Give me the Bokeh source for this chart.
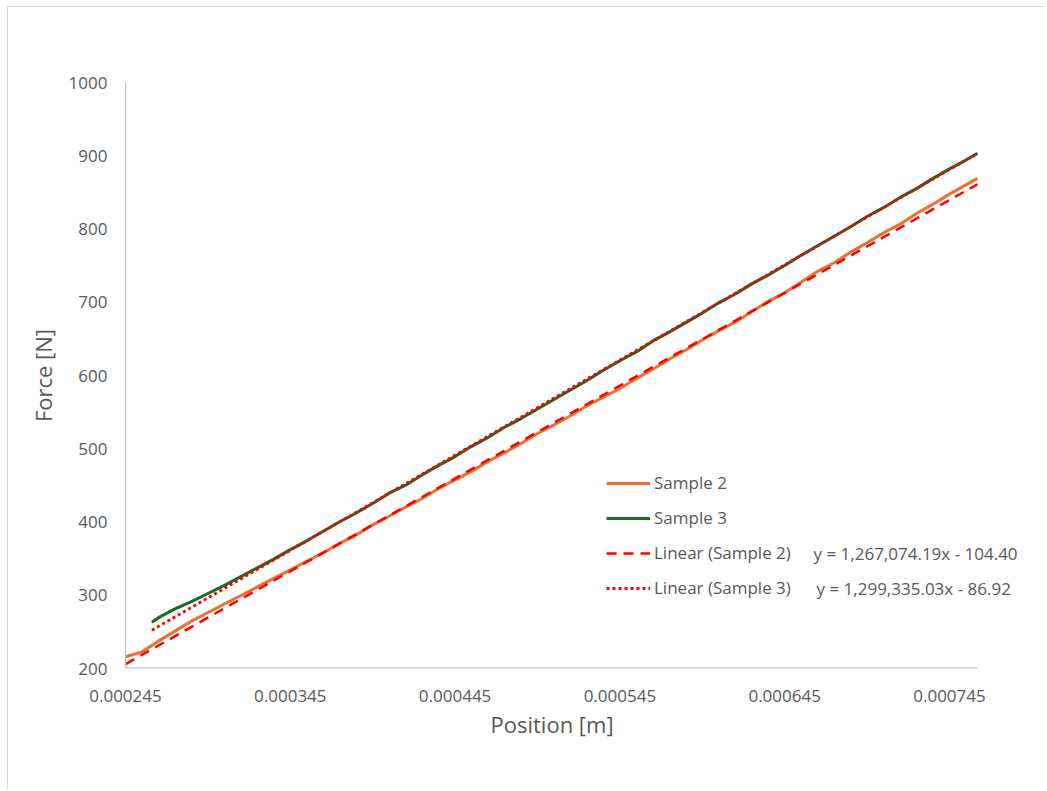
from bokeh.plotting import figure
from bokeh.models import (Range1d, FixedTicker, PrintfTickFormatter, Legend, LegendItem, Label, Title)
from bokeh.embed import file_html
from bokeh.resources import INLINE

# ---- data ----
x_sample2 = [0.000245, 0.000255, 0.000265, 0.000275, 0.000285, 0.000295, 0.000305, 0.000315,
             0.000325, 0.000335, 0.000345, 0.000355, 0.000365, 0.000375, 0.000385, 0.000395,
             0.000405, 0.000415, 0.000425, 0.000435, 0.000445, 0.000455, 0.000465, 0.000475,
             0.000485, 0.000495, 0.000505, 0.000515, 0.000525, 0.000535, 0.000545, 0.000555,
             0.000565, 0.000575, 0.000585, 0.000595, 0.000605, 0.000615, 0.000625, 0.000635,
             0.000645, 0.000655, 0.000665, 0.000675, 0.000685, 0.000695, 0.000705, 0.000715,
             0.000725, 0.000735, 0.000745, 0.000755, 0.000762]
force_sample2 = [216.0, 222.7, 237.4, 251.0, 264.7, 276.4, 288.1, 299.7, 311.4, 323.1, 334.7, 346.4,
                 358.1, 370.8, 382.4, 396.1, 407.8, 420.4, 432.1, 445.8, 457.4, 469.1, 482.8, 494.5,
                 507.1, 520.8, 532.5, 545.1, 558.8, 570.5, 582.2, 595.8, 608.5, 622.2, 634.8, 648.5,
                 661.2, 672.8, 687.5, 701.2, 712.9, 727.5, 742.2, 753.9, 768.5, 781.2, 794.9, 806.6,
                 821.2, 833.9, 847.6, 860.3, 869.1]

x_sample3 = [0.000261, 0.000265, 0.000275, 0.000285, 0.000295, 0.000305, 0.000315, 0.000325,
             0.000335, 0.000345, 0.000355, 0.000365, 0.000375, 0.000385, 0.000395, 0.000405,
             0.000415, 0.000425, 0.000435, 0.000445, 0.000455, 0.000465, 0.000475, 0.000485,
             0.000495, 0.000505, 0.000515, 0.000525, 0.000535, 0.000545, 0.000555, 0.000565,
             0.000575, 0.000585, 0.000595, 0.000605, 0.000615, 0.000625, 0.000635, 0.000645,
             0.000655, 0.000665, 0.000675, 0.000685, 0.000695, 0.000705, 0.000715, 0.000725,
             0.000735, 0.000745, 0.000755, 0.000762]
force_sample3 = [263.2, 269.4, 281.4, 291.4, 302.4, 313.4, 325.4, 337.4, 349.3, 362.3, 374.3, 387.3,
                 400.3, 412.3, 425.3, 439.3, 450.3, 464.3, 477.3, 489.3, 503.3, 515.3, 529.3, 541.2,
                 554.2, 567.2, 580.2, 593.2, 607.2, 620.2, 632.2, 647.2, 659.2, 672.2, 685.2, 699.2,
                 711.2, 725.1, 737.1, 750.1, 764.1, 777.1, 790.1, 803.1, 817.1, 829.1, 843.1, 855.1,
                 869.1, 882.1, 894.1, 903.2]

# trendline equations shown on the chart
slope2, intercept2 = 1267074.19, -104.40
slope3, intercept3 = 1299335.03, -86.92
eq2_text = "y = 1,267,074.19x - 104.40"
eq3_text = "y = 1,299,335.03x - 86.92"

x_ticks = [0.000245, 0.000345, 0.000445, 0.000545, 0.000645, 0.000745]
y_ticks = [200, 300, 400, 500, 600, 700, 800, 900, 1000]
x_axis_min, x_axis_max = 0.000245, 0.000762
y_axis_min, y_axis_max = 200, 1000
x_title = "Position [m]"
y_title = "Force [N]"

FONT = "Open Sans"
TXT = "#595959"
AXIS_COL = "#c0c0c0"

# layout (pixels)
W, H = 1038, 783
ML, MR, MT, MB = 117, 5, 75, 122
AXIS_PX = 852          # drawn length of the x axis line
FRAME_W = W - ML - MR  # plot frame extends further right so the legend text is not clipped
x_range_end = x_axis_min + (x_axis_max - x_axis_min) * FRAME_W / AXIS_PX

p = figure(width=W, height=H, output_backend="svg", toolbar_location=None,
           x_range=Range1d(x_axis_min, x_range_end), y_range=Range1d(y_axis_min, y_axis_max),
           min_border_left=ML, min_border_right=MR, min_border_top=MT, min_border_bottom=MB)
p.styles = {"margin-left": "7px", "margin-top": "6px",
            "border-left": "1px solid #d9d9d9", "border-top": "1px solid #d9d9d9"}
p.background_fill_color = "white"
p.border_fill_color = "white"
p.outline_line_color = None
p.xgrid.grid_line_color = None
p.ygrid.grid_line_color = None

# bottom axis line, only as long as the axis range
p.line([x_axis_min, x_axis_max], [y_axis_min, y_axis_min], line_color=AXIS_COL, line_width=2.4)

r2 = p.line(x_sample2, force_sample2, line_color="#E97132", line_width=3)
r3 = p.line(x_sample3, force_sample3, line_color="#196B24", line_width=3)

t2x = [x_sample2[0], x_sample2[-1]]
t2y = [slope2 * v + intercept2 for v in t2x]
t3x = [x_sample3[0], x_sample3[-1]]
t3y = [slope3 * v + intercept3 for v in t3x]
rt2 = p.line(t2x, t2y, line_color="#FF0000", line_width=2.5, line_dash="10 7")
rt3 = p.line(t3x, t3y, line_color="#FF0000", line_width=2.8, line_dash="3 3")

for ax in (p.xaxis[0], p.yaxis[0]):
    ax.axis_line_color = AXIS_COL
    ax.axis_line_width = 1.2
    ax.major_tick_line_color = None
    ax.minor_tick_line_color = None
    ax.major_tick_out = 0
    ax.major_tick_in = 0
    ax.major_label_text_font = FONT
    ax.major_label_text_font_size = "17px"
    ax.major_label_text_color = TXT
    ax.axis_label_text_font = FONT
    ax.axis_label_text_font_size = "22px"
    ax.axis_label_text_color = TXT
    ax.axis_label_text_font_style = "normal"

p.xaxis.axis_line_color = None
p.xaxis.ticker = FixedTicker(ticks=x_ticks)
p.xaxis.formatter = PrintfTickFormatter(format="%.6f")
p.yaxis.ticker = FixedTicker(ticks=y_ticks)
p.yaxis.axis_label = y_title
p.xaxis.major_label_standoff = 21
p.yaxis.major_label_standoff = 18
p.yaxis.axis_label_standoff = 8

# x-axis title centred under the drawn axis line (not the wider frame)
p.add_layout(Title(text=x_title, align="left", offset=365, standoff=5,
                   text_font=FONT, text_font_size="22px", text_color=TXT,
                   text_font_style="normal"), "below")

legend = Legend(items=[LegendItem(label="Sample 2", renderers=[r2]),
                       LegendItem(label="Sample 3", renderers=[r3]),
                       LegendItem(label="Linear (Sample 2)", renderers=[rt2]),
                       LegendItem(label="Linear (Sample 3)", renderers=[rt3])],
                location=(481, 69), orientation="vertical",
                glyph_width=44, glyph_height=20, label_height=20, spacing=12,
                label_standoff=4, padding=0, margin=0,
                border_line_color=None, background_fill_alpha=0,
                label_text_font=FONT, label_text_font_size="17px", label_text_color=TXT)
p.add_layout(legend, "center")

p.add_layout(Label(x=688, y=115, x_units="screen", y_units="screen", text=eq2_text,
                   text_font=FONT, text_font_size="17px", text_color=TXT, text_baseline="middle"))
p.add_layout(Label(x=691, y=80, x_units="screen", y_units="screen", text=eq3_text,
                   text_font=FONT, text_font_size="17px", text_color=TXT, text_baseline="middle"))

open("out.html", "w").write(file_html(p, INLINE))
